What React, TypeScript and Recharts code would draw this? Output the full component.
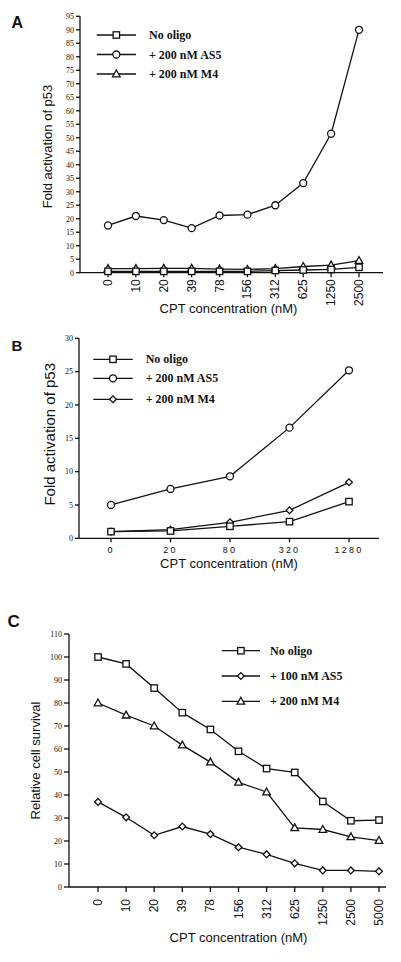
import React from 'react';
import { LineChart, Line, XAxis, YAxis, Legend, Label } from 'recharts';

// ---------- Data ----------
const catsA = ['0', '10', '20', '39', '78', '156', '312', '625', '1250', '2500'];
const noOligoA = [0.5, 0.5, 0.5, 0.5, 0.5, 0.5, 0.8, 1.0, 1.2, 2.0];
const as5A = [17.5, 21, 19.5, 16.5, 21.2, 21.5, 25, 33.2, 51.5, 90];
const m4A = [1.5, 1.5, 1.6, 1.6, 1.3, 1.2, 1.5, 2.3, 2.8, 4.5];
const ticksA = [0, 5, 10, 15, 20, 25, 30, 35, 40, 45, 50, 55, 60, 65, 70, 75, 80, 85, 90, 95];

const catsB = ['0', '20', '80', '320', '1280'];
const noOligoB = [1.0, 1.1, 1.8, 2.5, 5.5];
const as5B = [5.0, 7.4, 9.3, 16.6, 25.2];
const m4B = [1.0, 1.3, 2.4, 4.2, 8.4];
const ticksB = [0, 5, 10, 15, 20, 25, 30];

const catsC = ['0', '10', '20', '39', '78', '156', '312', '625', '1250', '2500', '5000'];
const noOligoC = [100, 97, 86.5, 75.8, 68.5, 59, 51.5, 49.8, 37.2, 28.8, 29.1];
const as5C = [37, 30.3, 22.5, 26.3, 23, 17.3, 14.2, 10.3, 7.2, 7.2, 6.8];
const m4C = [80, 74.7, 70, 61.7, 54.3, 45.5, 41.3, 25.7, 25, 21.8, 20.2];
const ticksC = [0, 10, 20, 30, 40, 50, 60, 70, 80, 90, 100, 110];

const namesA = ['No oligo', '+ 200 nM AS5', '+ 200 nM M4'];
const namesB = ['No oligo', '+ 200 nM AS5', '+ 200 nM M4'];
const namesC = ['No oligo', '+ 100 nM AS5', '+ 200 nM M4'];

const dataA = catsA.map((c, i) => ({ c, noOligo: noOligoA[i], as5: as5A[i], m4: m4A[i] }));
const dataB = catsB.map((c, i) => ({ c, noOligo: noOligoB[i], as5: as5B[i], m4: m4B[i] }));
const dataC = catsC.map((c, i) => ({ c, noOligo: noOligoC[i], as5: as5C[i], m4: m4C[i] }));

// ---------- Styles ----------
const SANS = '"Liberation Sans", Arial, Helvetica, sans-serif';
const SERIF = '"Liberation Serif", "Times New Roman", Times, serif';
const INK = '#111';
const SW = 1.3;

type Shape = 'square' | 'circle' | 'triangle' | 'diamond';

const Marker = ({ cx, cy, shape }: { cx: number; cy: number; shape: Shape }) => {
  if (cx == null || cy == null) return null;
  switch (shape) {
    case 'square':
      return <rect x={cx - 3.2} y={cy - 3.2} width={6.4} height={6.4} fill="#fff" stroke={INK} strokeWidth={SW} />;
    case 'circle':
      return <circle cx={cx} cy={cy} r={3.5} fill="#fff" stroke={INK} strokeWidth={SW} />;
    case 'triangle':
      return (
        <polygon
          points={`${cx},${cy - 4} ${cx + 3.8},${cy + 2.8} ${cx - 3.8},${cy + 2.8}`}
          fill="#fff"
          stroke={INK}
          strokeWidth={SW}
        />
      );
    case 'diamond':
      return (
        <polygon
          points={`${cx},${cy - 3.4} ${cx + 3.4},${cy} ${cx},${cy + 3.4} ${cx - 3.4},${cy}`}
          fill="#fff"
          stroke={INK}
          strokeWidth={SW}
        />
      );
  }
  return null;
};

const dotOf = (shape: Shape) => (p: any) => (
  <Marker key={`${shape}-${p.index}`} cx={p.cx} cy={p.cy} shape={shape} />
);

const RotTick = (props: any) => {
  const { x, y, payload } = props;
  return (
    <text
      x={x}
      y={y}
      transform={`rotate(-90 ${x} ${y})`}
      textAnchor="end"
      dominantBaseline="central"
      fontSize={12}
      fontFamily={SANS}
      fill={INK}
    >
      {payload.value}
    </text>
  );
};

type LegendSpec = {
  names: string[];
  shapes: Shape[];
  x1: number;
  x2: number;
  tx: number;
  rows: number[];
  w: number;
  h: number;
};

const makeLegend = (s: LegendSpec) => () => (
  <svg width={s.w} height={s.h} style={{ display: 'block' }}>
    {s.names.map((n, i) => (
      <g key={n}>
        <line x1={s.x1} x2={s.x2} y1={s.rows[i]} y2={s.rows[i]} stroke={INK} strokeWidth={SW} />
        <Marker cx={(s.x1 + s.x2) / 2} cy={s.rows[i]} shape={s.shapes[i]} />
        <text
          x={s.tx}
          y={s.rows[i]}
          dominantBaseline="central"
          fontFamily={SERIF}
          fontWeight="bold"
          fontSize={12}
          fill={INK}
        >
          {n}
        </text>
      </g>
    ))}
  </svg>
);

const yTick = { fontSize: 8, fontFamily: SERIF, fill: INK };

// ---------- Panel A ----------
const W = 401;
const HA = 330;
const HB = 250;
const HC = 382;

const PanelA = () => (
  <LineChart width={W} height={HA} data={dataA} margin={{ top: 16.3, right: 18, bottom: 14.3, left: 14 }}>
    <XAxis
      dataKey="c"
      interval={0}
      padding={{ left: 28, right: 24 }}
      height={43}
      tickSize={4.5}
      tickMargin={2}
      tick={<RotTick />}
      stroke={INK}
      axisLine={{ stroke: INK, strokeWidth: SW }}
      tickLine={{ stroke: INK, strokeWidth: SW }}
    >
      <Label value="CPT concentration (nM)" position="insideBottom" offset={3} dx={-3} fontSize={13} fontFamily={SANS} fill={INK} />
    </XAxis>
    <XAxis xAxisId="top" dataKey="c" orientation="top" height={0} tick={false} tickLine={false} axisLine={{ stroke: INK, strokeWidth: SW }} />
    <YAxis
      domain={[0, 95]}
      ticks={ticksA}
      interval={0}
      width={66}
      tickSize={4}
      tickMargin={2}
      tick={yTick}
      axisLine={{ stroke: INK, strokeWidth: SW }}
      tickLine={{ stroke: INK, strokeWidth: SW }}
    >
      <Label value="Fold activation of p53" angle={-90} position="center" dy={2} fontSize={13} fontFamily={SANS} fill={INK} />
    </YAxis>
    <YAxis yAxisId="right" orientation="right" domain={[0, 95]} width={0} tick={false} tickLine={false} axisLine={{ stroke: INK, strokeWidth: SW }} />
    <Legend
      layout="vertical"
      align="center"
      verticalAlign="middle"
      wrapperStyle={{ left: 0, top: 0, width: 300, height: 90 }}
      content={makeLegend({
        names: namesA,
        shapes: ['square', 'circle', 'triangle'],
        x1: 96.7,
        x2: 136,
        tx: 149,
        rows: [35, 54.5, 74],
        w: 300,
        h: 90,
      })}
    />
    <Line dataKey="m4" name={namesA[2]} stroke={INK} strokeWidth={SW} dot={dotOf('triangle')} isAnimationActive={false} />
    <Line dataKey="noOligo" name={namesA[0]} stroke={INK} strokeWidth={SW} dot={dotOf('square')} isAnimationActive={false} />
    <Line dataKey="as5" name={namesA[1]} stroke={INK} strokeWidth={SW} dot={dotOf('circle')} isAnimationActive={false} />
  </LineChart>
);

// ---------- Panel B ----------
const PanelB = () => (
  <LineChart width={W} height={HB} data={dataB} margin={{ top: 8.3, right: 22, bottom: 8.7, left: 19.6 }}>
    <XAxis
      dataKey="c"
      interval={0}
      padding={{ left: 32, right: 30 }}
      height={33}
      tickSize={4}
      tickMargin={4}
      tick={{ fontSize: 9, fontFamily: SANS, fill: INK, letterSpacing: 2.2 }}
      axisLine={{ stroke: INK, strokeWidth: SW }}
      tickLine={{ stroke: INK, strokeWidth: SW }}
    >
      <Label value="CPT concentration (nM)" position="insideBottom" offset={3.3} fontSize={13} fontFamily={SANS} fill={INK} />
    </XAxis>
    <XAxis xAxisId="top" dataKey="c" orientation="top" height={0} tick={false} tickLine={false} axisLine={{ stroke: INK, strokeWidth: SW }} />
    <YAxis
      domain={[0, 30]}
      ticks={ticksB}
      interval={0}
      width={59.4}
      tickSize={4}
      tickMargin={2}
      tick={yTick}
      axisLine={{ stroke: INK, strokeWidth: SW }}
      tickLine={{ stroke: INK, strokeWidth: SW }}
    >
      <Label value="Fold activation of p53" angle={-90} position="center" dy={-4} fontSize={15} fontFamily={SANS} fill={INK} />
    </YAxis>
    <YAxis yAxisId="right" orientation="right" domain={[0, 30]} width={0} tick={false} tickLine={false} axisLine={{ stroke: INK, strokeWidth: SW }} />
    <Legend
      layout="vertical"
      align="center"
      verticalAlign="middle"
      wrapperStyle={{ left: 0, top: 0, width: 300, height: 90 }}
      content={makeLegend({
        names: namesB,
        shapes: ['square', 'circle', 'diamond'],
        x1: 93.3,
        x2: 132.7,
        tx: 145.7,
        rows: [29.3, 48.3, 69.3],
        w: 300,
        h: 90,
      })}
    />
    <Line dataKey="m4" name={namesB[2]} stroke={INK} strokeWidth={SW} dot={dotOf('diamond')} isAnimationActive={false} />
    <Line dataKey="noOligo" name={namesB[0]} stroke={INK} strokeWidth={SW} dot={dotOf('square')} isAnimationActive={false} />
    <Line dataKey="as5" name={namesB[1]} stroke={INK} strokeWidth={SW} dot={dotOf('circle')} isAnimationActive={false} />
  </LineChart>
);

// ---------- Panel C ----------
const PanelC = () => (
  <LineChart width={W} height={HC} data={dataC} margin={{ top: 54, right: 15, bottom: 17, left: 1 }}>
    <XAxis
      dataKey="c"
      interval={0}
      padding={{ left: 29, right: 7 }}
      height={58}
      tickSize={5}
      tickMargin={7}
      tick={<RotTick />}
      axisLine={{ stroke: INK, strokeWidth: SW }}
      tickLine={{ stroke: INK, strokeWidth: SW }}
    >
      <Label value="CPT concentration (nM)" position="insideBottom" offset={3.3} dx={11} fontSize={13} fontFamily={SANS} fill={INK} />
    </XAxis>
    <XAxis xAxisId="top" dataKey="c" orientation="top" height={0} tick={false} tickLine={false} axisLine={{ stroke: INK, strokeWidth: SW }} />
    <YAxis
      domain={[0, 110]}
      ticks={ticksC}
      interval={0}
      width={68}
      tickSize={5}
      tickMargin={2}
      tick={yTick}
      axisLine={{ stroke: INK, strokeWidth: SW }}
      tickLine={{ stroke: INK, strokeWidth: SW }}
    >
      <Label value="Relative cell survival" angle={-90} position="center" fontSize={13} fontFamily={SANS} fill={INK} />
    </YAxis>
    <YAxis yAxisId="right" orientation="right" domain={[0, 110]} width={0} tick={false} tickLine={false} axisLine={{ stroke: INK, strokeWidth: SW }} />
    <Legend
      layout="vertical"
      align="center"
      verticalAlign="middle"
      wrapperStyle={{ left: 0, top: 0, width: 401, height: 140 }}
      content={makeLegend({
        names: namesC,
        shapes: ['square', 'diamond', 'triangle'],
        x1: 221.7,
        x2: 260,
        tx: 270,
        rows: [70.7, 96, 121.3],
        w: 401,
        h: 140,
      })}
    />
    <Line dataKey="as5" name={namesC[1]} stroke={INK} strokeWidth={SW} dot={dotOf('diamond')} isAnimationActive={false} />
    <Line dataKey="m4" name={namesC[2]} stroke={INK} strokeWidth={SW} dot={dotOf('triangle')} isAnimationActive={false} />
    <Line dataKey="noOligo" name={namesC[0]} stroke={INK} strokeWidth={SW} dot={dotOf('square')} isAnimationActive={false} />
  </LineChart>
);

export default function App() {
  return (
    <div style={{ position: 'absolute', left: 0, top: 0, width: W, height: 962, background: '#fff', overflow: 'hidden' }}>
      <div style={{ position: 'absolute', left: 0, top: 0 }}>
        <PanelA />
      </div>
      <div style={{ position: 'absolute', left: 0, top: 330 }}>
        <PanelB />
      </div>
      <div style={{ position: 'absolute', left: 0, top: 580 }}>
        <PanelC />
      </div>
      <svg width={W} height={962} style={{ position: 'absolute', left: 0, top: 0, pointerEvents: 'none' }}>
        <text x={11.5} y={28.3} fontFamily={SANS} fontWeight="bold" fontSize={16} fill={INK}>A</text>
        <text x={11.5} y={350.7} fontFamily={SANS} fontWeight="bold" fontSize={15} fill={INK}>B</text>
        <text x={7.5} y={626.5} fontFamily={SANS} fontWeight="bold" fontSize={17} fill={INK}>C</text>
      </svg>
    </div>
  );
}
